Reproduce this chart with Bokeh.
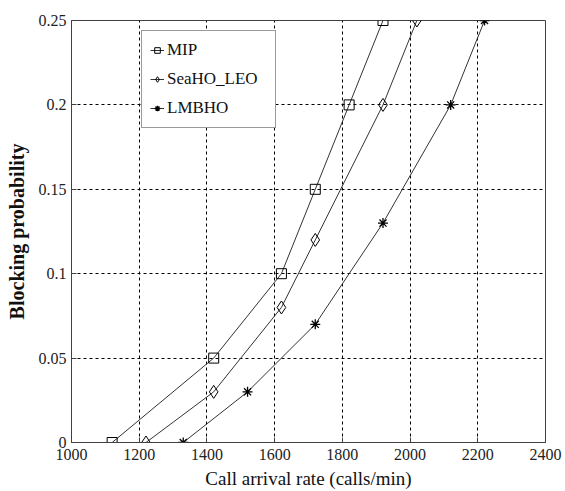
from bokeh.plotting import figure
from bokeh.models import Range1d, FixedTicker, Legend, LegendItem
from bokeh.embed import file_html
from bokeh.resources import INLINE

x_ticks = [1000, 1200, 1400, 1600, 1800, 2000, 2200, 2400]
y_ticks = [0, 0.05, 0.1, 0.15, 0.2, 0.25]
y_tick_labels = ["0", "0.05", "0.1", "0.15", "0.2", "0.25"]

x_mip = [1120, 1420, 1620, 1720, 1820, 1920]
y_mip = [0, 0.05, 0.1, 0.15, 0.2, 0.25]
x_sea = [1220, 1420, 1620, 1720, 1920, 2020]
y_sea = [0, 0.03, 0.08, 0.12, 0.2, 0.25]
x_lmb = [1330, 1520, 1720, 1920, 2120, 2220]
y_lmb = [0, 0.03, 0.07, 0.13, 0.2, 0.25]

FONT = "'Liberation Serif', 'Times New Roman', serif"

p = figure(width=565, height=491, output_backend="svg", toolbar_location=None,
           x_range=Range1d(1000, 2400), y_range=Range1d(0, 0.25),
           min_border_left=71, min_border_top=20, min_border_right=20, min_border_bottom=48)

p.background_fill_color = "white"
p.border_fill_color = "white"
p.outline_line_color = "#404040"
p.outline_line_width = 1

for ax in (p.xaxis[0], p.yaxis[0]):
    ax.major_label_text_font = FONT
    ax.major_label_text_font_size = "16px"
    ax.major_label_text_color = "#222222"
    ax.axis_label_text_font = FONT
    ax.axis_label_text_font_style = "normal"
    ax.axis_label_text_color = "#111111"
    ax.major_tick_in = 5
    ax.major_tick_out = 0
    ax.minor_tick_line_color = None
    ax.axis_line_color = "#404040"
    ax.major_tick_line_color = "#404040"

p.xaxis.ticker = FixedTicker(ticks=x_ticks)
p.yaxis.ticker = FixedTicker(ticks=y_ticks)
p.yaxis.major_label_overrides = {t: l for t, l in zip(y_ticks, y_tick_labels)}
p.xaxis.axis_label = "Call arrival rate (calls/min)"
p.xaxis.axis_label_text_font_size = "19px"
p.xaxis.axis_label_standoff = 5
p.xaxis.major_label_standoff = 6
p.yaxis.axis_label = "Blocking probability"
p.yaxis.axis_label_text_font_size = "20px"
p.yaxis.axis_label_text_font_style = "bold"
p.yaxis.axis_label_standoff = 8
p.yaxis.major_label_standoff = 5

p.xgrid.ticker = FixedTicker(ticks=x_ticks)
p.ygrid.ticker = FixedTicker(ticks=y_ticks)
p.grid.grid_line_color = "black"
p.grid.grid_line_dash = "3 3"
p.grid.grid_line_width = 1

lc = "#333333"
l1 = p.line(x_mip, y_mip, line_color=lc, line_width=1)
m1 = p.scatter(x_mip, y_mip, marker="square", size=10, fill_color=None, line_color="black", line_width=1)
l2 = p.line(x_sea, y_sea, line_color=lc, line_width=1)
m2 = p.scatter(x_sea, y_sea, marker="diamond", size=13, fill_color=None, line_color="black", line_width=1)
l3 = p.line(x_lmb, y_lmb, line_color=lc, line_width=1)
m3 = p.scatter(x_lmb, y_lmb, marker="asterisk", size=10, fill_color=None, line_color="black", line_width=1.3)

legend = Legend(items=[
    LegendItem(label="MIP", renderers=[l1, m1]),
    LegendItem(label="SeaHO_LEO", renderers=[l2, m2]),
    LegendItem(label="LMBHO", renderers=[l3, m3]),
], location=(70, 314))
legend.label_text_font = FONT
legend.label_text_font_size = "17px"
legend.label_text_color = "#111111"
legend.glyph_width = 14
legend.glyph_height = 22
legend.label_standoff = 3
legend.label_width = 100
legend.spacing = 7
legend.padding = 8
legend.margin = 0
legend.border_line_color = "#333333"
legend.border_line_width = 1
legend.background_fill_color = "white"
legend.background_fill_alpha = 1
p.add_layout(legend, "center")

open("out.html", "w").write(file_html(p, INLINE))
